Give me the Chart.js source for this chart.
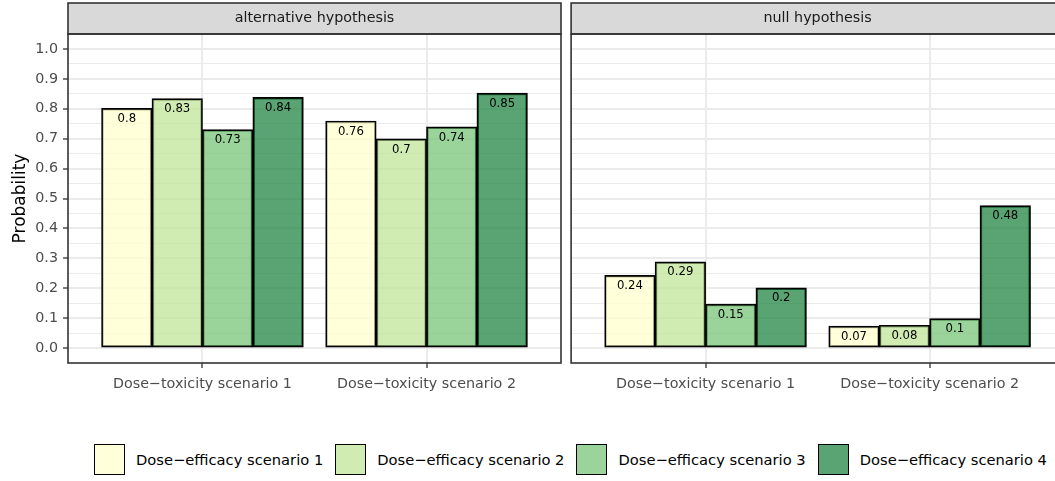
<!DOCTYPE html>
<html>
<head>
<meta charset="utf-8">
<script src="https://cdn.jsdelivr.net/npm/chart.js@4.4.1/dist/chart.umd.min.js"></script>
<style>
  html, body { margin: 0; padding: 0; background: #fff; overflow: hidden; }
  #wrap { position: relative; width: 1055px; height: 481px; overflow: hidden; }
  #leftPanel { position: absolute; left: 0; top: 0; }
  #rightPanel { position: absolute; left: 566px; top: 0; }
  #legend { position: absolute; left: 94px; top: 444px; display: flex; align-items: center;
            font-family: "DejaVu Sans"; font-size: 14.7px; color: #000; white-space: nowrap; }
  .key { width: 31px; height: 31px; box-sizing: border-box; border: 1.6px solid #000; }
  .keyText { margin-left: 11px; margin-right: 12px; }
</style>
</head>
<body>
<div id="wrap">
  <canvas id="leftPanel" width="566" height="400" style="width:566px;height:400px"></canvas>
  <canvas id="rightPanel" width="505" height="400" style="width:505px;height:400px"></canvas>
  <div id="legend"></div>
</div>
<script>
const hypotheses = ['alternative hypothesis', 'null hypothesis'];
const toxicityScenarios = ['Dose\u2212toxicity scenario 1', 'Dose\u2212toxicity scenario 2'];
const efficacyScenarios = ['Dose\u2212efficacy scenario 1', 'Dose\u2212efficacy scenario 2',
                           'Dose\u2212efficacy scenario 3', 'Dose\u2212efficacy scenario 4'];

// one row per dose-efficacy scenario, one value per dose-toxicity scenario
const alternativeProb = [
  [0.801, 0.759],
  [0.834, 0.699],
  [0.730, 0.739],
  [0.838, 0.852]
];
const nullProb = [
  [0.243, 0.073],
  [0.288, 0.076],
  [0.147, 0.098],
  [0.201, 0.476]
];

const yTickValues = [0, 0.1, 0.2, 0.3, 0.4, 0.5, 0.6, 0.7, 0.8, 0.9, 1.0];
const yTickLabels = ['0.0', '0.1', '0.2', '0.3', '0.4', '0.5', '0.6', '0.7', '0.8', '0.9', '1.0'];

const efficacyColours = ['rgba(255,255,204,0.75)', 'rgba(194,230,153,0.75)',
                         'rgba(120,198,121,0.75)', 'rgba(35,132,67,0.75)'];

Chart.defaults.font.family = '"DejaVu Sans"';

// major ticks plus the minor ones half way between
const yGridValues = [];
yTickValues.forEach((v, i) => {
  yGridValues.push(v);
  if (i < yTickValues.length - 1) yGridValues.push((v + yTickValues[i + 1]) / 2);
});
const majorIndex = v => yTickValues.findIndex(t => Math.abs(t - v) < 1e-9);

const panelStrip = {
  id: 'panelStrip',
  afterDraw(chart, args, opts) {
    const { ctx, chartArea: a } = chart;
    ctx.save();
    ctx.fillStyle = '#D9D9D9';
    ctx.fillRect(a.left, 3, a.right - a.left, a.top - 3);
    ctx.strokeStyle = '#333333';
    ctx.lineWidth = 1.6;
    ctx.strokeRect(a.left, 3, a.right - a.left, a.top - 3);
    ctx.strokeRect(a.left, a.top, a.right - a.left, a.bottom - a.top);
    ctx.fillStyle = '#1A1A1A';
    ctx.font = '14.3px "DejaVu Sans"';
    ctx.textAlign = 'center';
    ctx.textBaseline = 'middle';
    ctx.fillText(opts.title, (a.left + a.right) / 2, (3 + a.top) / 2);
    ctx.restore();
  }
};

const barLabels = {
  id: 'barLabels',
  afterDatasetsDraw(chart) {
    const { ctx } = chart;
    ctx.save();
    ctx.font = '11.7px "DejaVu Sans"';
    ctx.fillStyle = '#000';
    ctx.textAlign = 'center';
    ctx.textBaseline = 'middle';
    chart.data.datasets.forEach((ds, k) => {
      chart.getDatasetMeta(k).data.forEach((bar, i) => {
        const v = ds.data[i].y;
        ctx.fillText(String(Math.round(v * 100) / 100), bar.x, bar.y + 10.5);
      });
    });
    ctx.restore();
  }
};

function makePanel(id, title, values, showY, padLeft, padRight) {
  return new Chart(document.getElementById(id), {
    type: 'bar',
    data: {
      datasets: values.map((row, k) => ({
        label: efficacyScenarios[k],
        data: row.map((v, i) => ({ x: i + 1, y: v })),
        backgroundColor: efficacyColours[k],
        borderColor: '#000',
        borderWidth: 1.7,
        borderSkipped: false,
        inflateAmount: 0.4,
        categoryPercentage: 0.9,
        barPercentage: 1.0
      }))
    },
    options: {
      responsive: false,
      animation: false,
      layout: { padding: { top: 34, left: padLeft, right: padRight, bottom: 0 } },
      plugins: {
        legend: { display: false },
        tooltip: { enabled: false },
        panelStrip: { title: title }
      },
      scales: {
        x: {
          type: 'linear',
          min: 0.4,
          max: 2.6,
          offset: false,
          afterBuildTicks: s => { s.ticks = toxicityScenarios.map((_, i) => ({ value: i + 1 })); },
          afterFit: s => { s.height = 37; },
          grid: { offset: false, color: '#EBEBEB', lineWidth: 2, tickColor: '#333333', tickWidth: 1.3, tickLength: 5 },
          border: { display: false },
          ticks: {
            color: '#4D4D4D', font: { size: 14.3 }, padding: 8,
            maxRotation: 0, minRotation: 0, autoSkip: false,
            callback: v => toxicityScenarios[Math.round(v) - 1]
          }
        },
        y: {
          min: -0.05,
          max: 1.05,
          afterBuildTicks: s => { s.ticks = yGridValues.map(v => ({ value: v })); },
          afterFit: s => { s.width = showY ? 68 : 0; },
          grid: {
            color: '#EBEBEB',
            lineWidth: c => (c.tick && majorIndex(c.tick.value) >= 0) ? 2 : 1,
            tickColor: c => (c.tick && majorIndex(c.tick.value) >= 0) ? '#333333' : 'rgba(0,0,0,0)',
            drawTicks: showY,
            tickLength: 5,
            tickWidth: 1.3
          },
          border: { display: false },
          title: {
            display: showY, text: 'Probability', color: '#000',
            font: { size: 17 }, padding: { top: 10, bottom: 0 }
          },
          ticks: {
            display: showY, autoSkip: false, color: '#4D4D4D', font: { size: 14.3 }, padding: 5,
            callback: v => { const i = majorIndex(v); return i >= 0 ? yTickLabels[i] : ''; }
          }
        }
      }
    },
    plugins: [panelStrip, barLabels]
  });
}

makePanel('leftPanel', hypotheses[0], alternativeProb, true, 0, 5);
makePanel('rightPanel', hypotheses[1], nullProb, false, 5.1, 6.9);

const legend = document.getElementById('legend');
efficacyScenarios.forEach((name, k) => {
  const key = document.createElement('div');
  key.className = 'key';
  key.style.background = efficacyColours[k];
  const txt = document.createElement('span');
  txt.className = 'keyText';
  txt.textContent = name;
  legend.appendChild(key);
  legend.appendChild(txt);
});
</script>
</body>
</html>
